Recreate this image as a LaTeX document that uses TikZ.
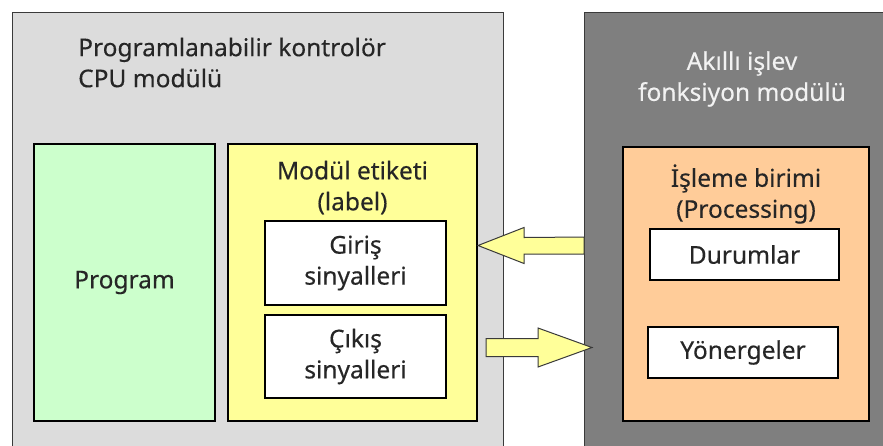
\documentclass[tikz,border=0pt]{standalone}
\usepackage{fontspec}
\setmainfont[FakeBold=0.3]{Noto Sans}
\definecolor{paneLight}{HTML}{DCDCDC}
\definecolor{paneDark}{HTML}{7F7F7F}
\definecolor{paneEdge}{HTML}{3A3A3A}
\definecolor{progGreen}{HTML}{CCFFCC}
\definecolor{labelYellow}{HTML}{FFFF99}
\definecolor{procOrange}{HTML}{FFCC99}
\definecolor{inkText}{HTML}{262626}
\definecolor{lightText}{HTML}{F2F2F2}
\tikzset{
  pane/.style={draw=paneEdge, line width=1.2pt, rectangle, inner sep=0pt, anchor=north west},
  blockbox/.style={draw=black, line width=2.6pt, rectangle, inner sep=0pt, text=inkText, align=center},
  boxtext/.style={font=\fontsize{24.5}{31}\selectfont, text=inkText, align=center, inner sep=0pt},
  blockarrow/.style={draw=paneEdge, line width=1pt, fill=labelYellow, line join=miter}
}
\begin{document}
\begin{tikzpicture}[x=1pt,y=-1pt]
\useasboundingbox (0,0) rectangle (883,445);
\clip (0,0) rectangle (883,445);
\fill[white] (0,0) rectangle (883,445);

% the two modules
\node[pane, fill=paneLight, minimum width=491pt, minimum height=460pt] (cpu) at (12,12) {};
\node[pane, fill=paneDark, minimum width=330pt, minimum height=460pt] (smart) at (584,12) {};

\node[boxtext, align=left, anchor=west] (cputitle) at (78,62.5)
  {Programlanabilir kontrolör\\CPU modülü};
\node[boxtext, text=lightText] (smarttitle) at (742,79)
  {Akıllı işlev\\fonksiyon modülü};

% CPU module contents
\node[blockbox, fill=progGreen, minimum width=181pt, minimum height=277pt] (program) at (124.5,282.5) {};
\node[boxtext] at (program.center) {Program};

\node[blockbox, fill=labelYellow, minimum width=249pt, minimum height=277pt] (label) at (352.5,282.5) {};
\node[boxtext] (labeltitle) at (352.5,187.5) {Modül etiketi\\(label)};

\node[blockbox, fill=white, minimum width=181pt, minimum height=84pt] (inputs) at (355.5,263) {};
\node[boxtext] at (inputs.center) {Giriş\\sinyalleri};
\node[blockbox, fill=white, minimum width=181pt, minimum height=83pt] (outputs) at (355.5,356.5) {};
\node[boxtext] at (outputs.center) {Çıkış\\sinyalleri};

% processing unit
\node[blockbox, fill=procOrange, minimum width=246pt, minimum height=274pt] (proc) at (746,284) {};
\node[boxtext] (proctitle) at (746,194) {İşleme birimi\\(Processing)};
\node[blockbox, fill=white, minimum width=189pt, minimum height=51pt] (states) at (744.5,254.5) {};
\node[boxtext] at (states.center) {Durumlar};
\node[blockbox, fill=white, minimum width=190pt, minimum height=51pt] (instr) at (743,352.5) {};
\node[boxtext] at (instr.center) {Yönergeler};

% block arrows between the modules
\coordinate (inTip) at (478,245.5);
\coordinate (outTip) at (592,347.5);
\draw[blockarrow] (inTip) -- ++(46,-18) -- ++(0,10) -- (smart.west |- 0,237) -- (smart.west |- 0,254)
  -- (524,254) -- (524,263.5) -- cycle;
\draw[blockarrow] (outTip) -- ++(-54,-19.5) -- ++(0,10.5) -- (486,338.5) -- (486,356.5)
  -- (538,356.5) -- (538,367) -- cycle;
\end{tikzpicture}
\end{document}
